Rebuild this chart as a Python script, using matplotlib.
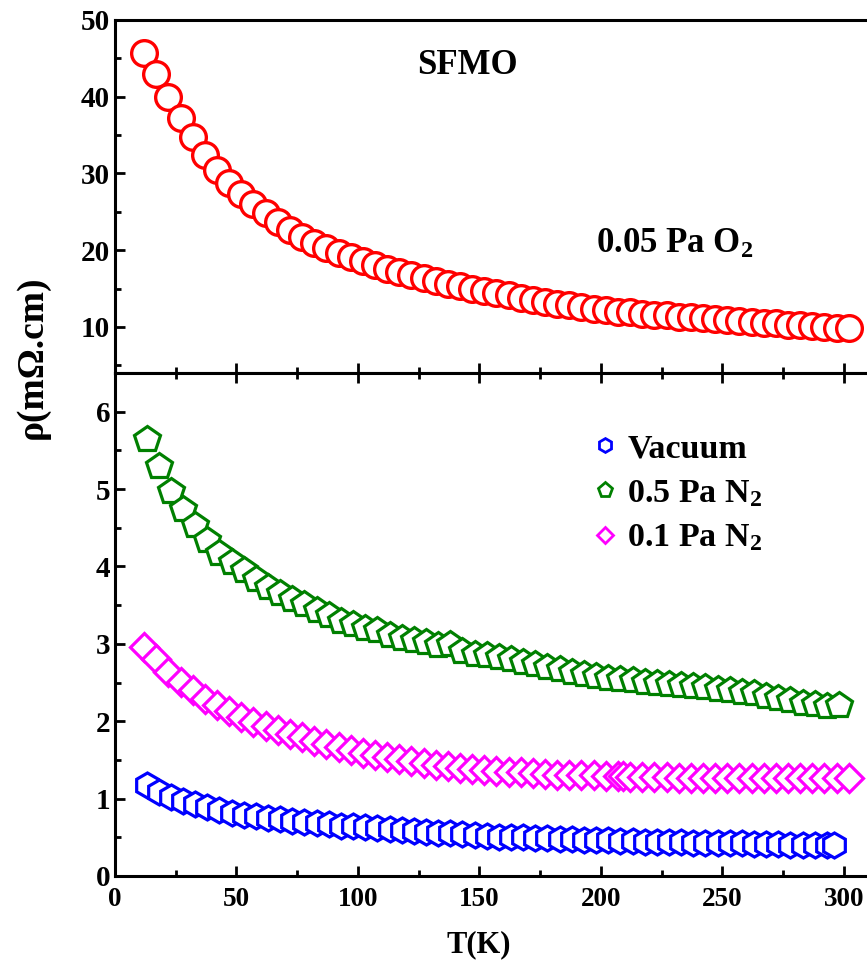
import matplotlib
matplotlib.use("Agg")
import matplotlib.pyplot as plt
from matplotlib.ticker import MultipleLocator
from matplotlib.lines import Line2D

plt.rcParams['font.family'] = ['Liberation Serif', 'DejaVu Serif']
plt.rcParams['font.weight'] = 'bold'
plt.rcParams['mathtext.fontset'] = 'custom'
plt.rcParams['mathtext.rm'] = 'Liberation Serif:bold'
plt.rcParams['mathtext.bf'] = 'Liberation Serif:bold'
plt.rcParams['mathtext.it'] = 'Liberation Serif:bold'

# resistivity of the O2-annealed film (mOhm.cm)
T_o2 = [12, 17, 22, 27, 32, 37, 42, 47, 52, 57, 62, 67, 72, 77, 82, 87, 92, 97,
        102, 107, 112, 117, 122, 127, 132, 137, 142, 147, 152, 157, 162, 167,
        172, 177, 182, 187, 192, 197, 202, 207, 212, 217, 222, 227, 232, 237,
        242, 247, 252, 257, 262, 267, 272, 277, 282, 287, 292, 297, 302]
rho_o2 = [45.7, 43.0, 40.0, 37.2, 34.7, 32.4, 30.5, 28.8, 27.3, 26.0, 24.8,
          23.7, 22.6, 21.7, 20.9, 20.3, 19.7, 19.1, 18.6, 18.1, 17.6, 17.2,
          16.8, 16.4, 16.0, 15.6, 15.3, 15.0, 14.7, 14.4, 14.1, 13.8, 13.5,
          13.3, 13.0, 12.8, 12.6, 12.4, 12.2, 12.0, 11.9, 11.75, 11.6, 11.5,
          11.35, 11.25, 11.15, 11.05, 10.9, 10.8, 10.7, 10.55, 10.45, 10.3,
          10.2, 10.1, 10.0, 9.9, 9.8]

# 0.5 Pa N2
T_n05 = [13, 18, 23, 28, 33, 38, 43, 48, 53, 58, 63, 68, 73, 78, 83, 88, 93,
         98, 103, 108, 113, 118, 123, 128, 133, 138, 143, 148, 153, 158, 163,
         168, 173, 178, 183, 188, 193, 198, 203, 208, 213, 218, 223, 228, 233,
         238, 243, 248, 253, 258, 263, 268, 273, 278, 283, 288, 293, 298]
rho_n05 = [5.65, 5.30, 4.98, 4.74, 4.53, 4.34, 4.18, 4.06, 3.95, 3.84, 3.74,
           3.66, 3.58, 3.51, 3.44, 3.37, 3.30, 3.25, 3.20, 3.18, 3.12, 3.08,
           3.05, 3.02, 2.99, 3.00, 2.91, 2.87, 2.86, 2.83, 2.80, 2.76, 2.74,
           2.70, 2.67, 2.64, 2.61, 2.59, 2.56, 2.55, 2.53, 2.51, 2.50, 2.48,
           2.47, 2.45, 2.44, 2.42, 2.40, 2.38, 2.36, 2.33, 2.30, 2.27, 2.24,
           2.22, 2.20, 2.21]

# 0.1 Pa N2
T_n01 = [12, 17, 22, 27, 32, 37, 42, 47, 52, 57, 62, 67, 72, 77, 82, 87, 92,
         97, 102, 107, 112, 117, 122, 127, 132, 137, 142, 147, 152, 157, 162,
         167, 172, 177, 182, 187, 192, 197, 202, 207, 209, 212, 217, 222, 227,
         232, 237, 242, 247, 252, 257, 262, 267, 272, 277, 282, 287, 292, 297,
         302]
rho_n01 = [2.96, 2.80, 2.64, 2.51, 2.40, 2.29, 2.21, 2.13, 2.06, 1.99, 1.94,
           1.88, 1.83, 1.79, 1.75, 1.70, 1.67, 1.63, 1.59, 1.56, 1.54, 1.51,
           1.48, 1.46, 1.44, 1.42, 1.40, 1.38, 1.37, 1.36, 1.35, 1.34, 1.33,
           1.32, 1.31, 1.31, 1.30, 1.30, 1.29, 1.29, 1.29, 1.28, 1.28, 1.28,
           1.28, 1.27, 1.27, 1.27, 1.27, 1.27, 1.27, 1.27, 1.27, 1.27, 1.27,
           1.27, 1.27, 1.27, 1.27, 1.27]

# vacuum
T_vac = [13, 18, 23, 28, 33, 38, 43, 48, 53, 58, 63, 68, 73, 78, 83, 88, 93,
         98, 103, 108, 113, 118, 123, 128, 133, 138, 143, 148, 153, 158, 163,
         168, 173, 178, 183, 188, 193, 198, 203, 208, 213, 218, 223, 228, 233,
         238, 243, 248, 253, 258, 263, 268, 273, 278, 283, 288, 293, 296]
rho_vac = [1.17, 1.09, 1.02, 0.97, 0.93, 0.89, 0.85, 0.82, 0.79, 0.77, 0.75,
           0.73, 0.71, 0.70, 0.68, 0.67, 0.65, 0.64, 0.63, 0.62, 0.61, 0.60,
           0.58, 0.57, 0.56, 0.55, 0.54, 0.53, 0.52, 0.51, 0.505, 0.50, 0.49,
           0.485, 0.48, 0.475, 0.47, 0.465, 0.46, 0.455, 0.45, 0.445, 0.44,
           0.44, 0.435, 0.43, 0.43, 0.425, 0.42, 0.42, 0.415, 0.41, 0.41,
           0.405, 0.40, 0.40, 0.40, 0.40]

fig = plt.figure(figsize=(8.67, 9.66), dpi=100)
ax1 = fig.add_axes([0.1326, 0.6139, 0.8674, 0.3654])
ax2 = fig.add_axes([0.1326, 0.0932, 0.8674, 0.5207])

ax1.plot(T_o2, rho_o2, ls='none', marker='o', ms=18.5, mew=2.4,
         mec='#ff0000', mfc='white')
ax2.plot(T_n05, rho_n05, ls='none', marker='p', ms=19, mew=2.3,
         mec='#008000', mfc='white')
ax2.plot(T_n01, rho_n01, ls='none', marker='D', ms=14, mew=2.3,
         mec='#ff00ff', mfc='white')
ax2.plot(T_vac, rho_vac, ls='none', marker='h', ms=18, mew=2.3,
         mec='#0000ff', mfc='white')

for ax in (ax1, ax2):
    ax.set_xlim(0, 309.5)
    ax.xaxis.set_major_locator(MultipleLocator(50))
    ax.xaxis.set_minor_locator(MultipleLocator(25))
    for s in ('left', 'bottom', 'top'):
        ax.spines[s].set_linewidth(2.2)
    ax.spines['right'].set_visible(False)
    ax.tick_params(which='both', direction='in', width=2)
    ax.tick_params(axis='x', labelsize=19.5)
    ax.tick_params(axis='y', labelsize=21)
    ax.tick_params(which='major', length=7)
    ax.tick_params(which='minor', length=4)

ax1.set_ylim(4, 50)
ax1.yaxis.set_major_locator(MultipleLocator(10))
ax1.yaxis.set_minor_locator(MultipleLocator(5))
ax1.tick_params(axis='x', which='both', labelbottom=False, top=False)

ax2.set_ylim(0, 6.5)
ax2.yaxis.set_major_locator(MultipleLocator(1))
ax2.yaxis.set_minor_locator(MultipleLocator(0.5))
ax2.tick_params(axis='x', which='both', top=True)
ax2.tick_params(axis='x', which='major', pad=8)

ax1.text(145, 44.1, 'SFMO', fontsize=25, fontweight='bold',
         ha='center', va='center')
ax1.text(198, 19.6, '0.05 Pa O$_2$', fontsize=25, fontweight='bold',
         ha='left', va='baseline')

handles = [
    Line2D([], [], ls='none', marker='h', ms=10, mew=2, mec='#0000ff', mfc='white'),
    Line2D([], [], ls='none', marker='p', ms=11, mew=2, mec='#008000', mfc='white'),
    Line2D([], [], ls='none', marker='D', ms=8.5, mew=2, mec='#ff00ff', mfc='white'),
]
labels = ['Vacuum', '0.5 Pa N$_2$', '0.1 Pa N$_2$']
ax2.legend(handles, labels, loc='upper left', bbox_to_anchor=(0.634, 0.88),
           frameon=False, fontsize=24.5, handlelength=0.75, handletextpad=0.3,
           labelspacing=0.4, borderpad=0, borderaxespad=0)

fig.text(0.037, 0.630, 'ρ(mΩ.cm)', rotation=90, fontsize=27,
         fontweight='bold', ha='center', va='center')
fig.text(0.552, 0.022, 'T(K)', fontsize=22, fontweight='bold',
         ha='center', va='center')

fig.savefig('out.png', dpi=100)
